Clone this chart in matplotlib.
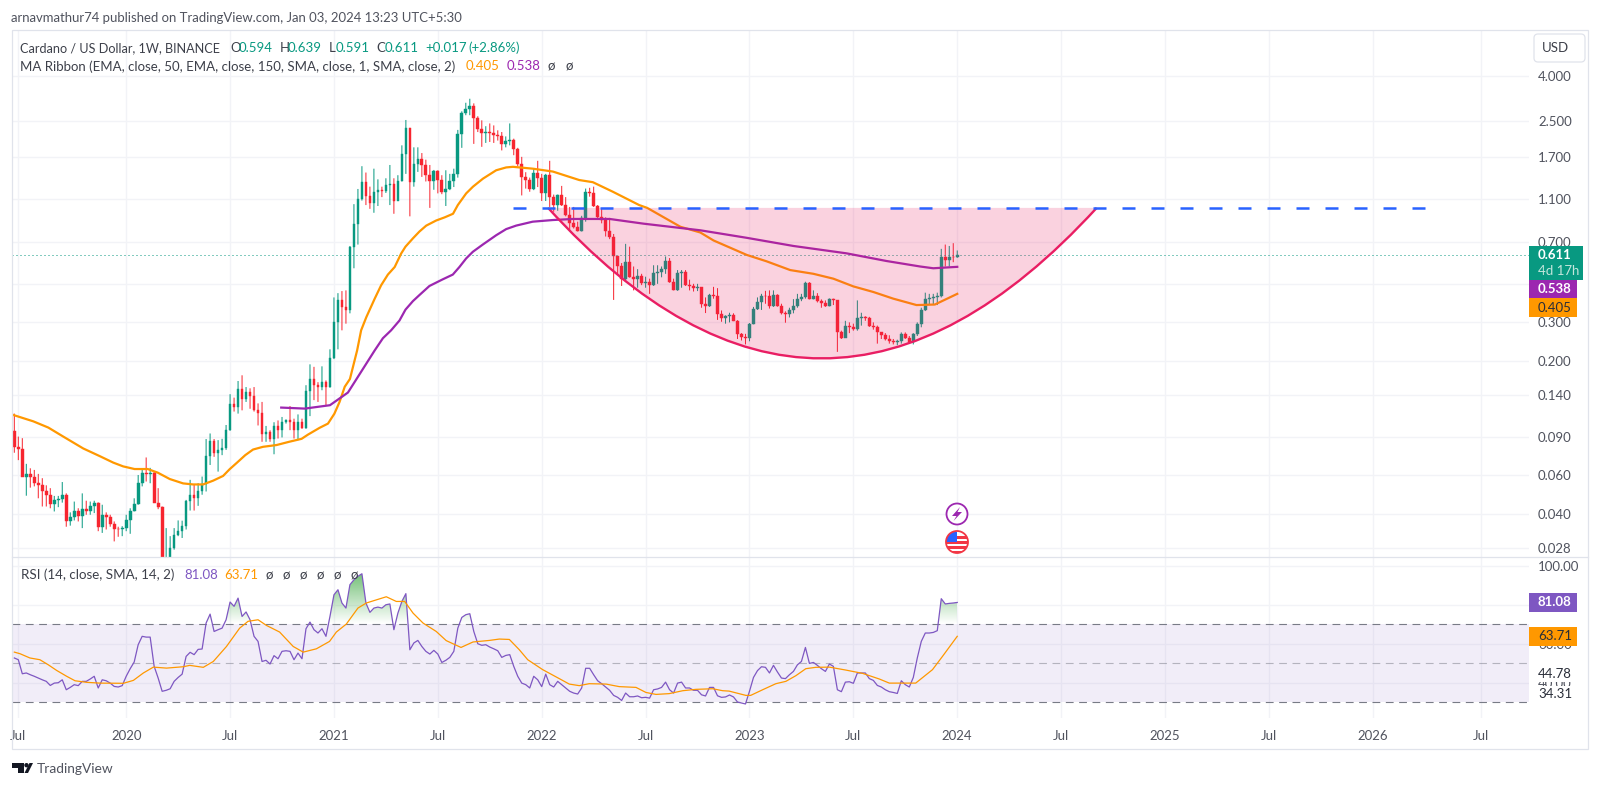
import numpy as np
import matplotlib
matplotlib.use('Agg')
import matplotlib.pyplot as plt
from matplotlib.patches import Rectangle, Circle, PathPatch, FancyBboxPatch, Polygon
from matplotlib.path import Path

plt.rcParams['font.family'] = ['Lato', 'DejaVu Sans']

# weekly candles, one value per week, oldest first
closes = [
    .0808, .0795, .0593, .0610, .0593, .0557, .0543, .0507, .0490, .0445,
    .0464, .0468, .0487, .0370, .0386, .0414, .0393, .0421, .0415, .0436,
    .0449, .0350, .0397, .0386, .0361, .0343, .0342, .0346, .0377, .0415,
    .0445, .0553, .0618, .0610, .0614, .0451, .0430, .0235, .0250, .0280,
    .0320, .0336, .0354, .0460, .0490, .0472, .0510, .0549, .0735, .0863,
    .0757, .0785, .0797, .0972, .127, .123, .149, .134, .144, .138,
    .119, .1158, .0925, .095, .0885, .1007, .0966, .1058, .107, .1055,
    .0966, .1058, .0993, .146, .165, .156, .152, .161, .152, .206,
    .301, .380, .353, .342, .665, .845, 1.10, 1.31, 1.13, 1.05,
    1.185, 1.205, 1.195, 1.27, 1.28, 1.08, 1.325, 1.76, 2.32, 1.31,
    1.58, 1.68, 1.57, 1.41, 1.33, 1.47, 1.34, 1.185, 1.225, 1.32,
    1.425, 2.17, 2.72, 2.84, 2.91, 2.58, 2.28, 2.20, 2.23, 2.19,
    2.16, 2.13, 1.96, 2.02, 2.05, 1.85, 1.58, 1.385, 1.34, 1.225,
    1.45, 1.375, 1.17, 1.41, 1.127, 1.03, 1.14, 1.03, .925, .85,
    .82, .785, .90, 1.185, 1.165, 1.015, .91, .878, .785, .735,
    .60, .54, .475, .565, .485, .472, .488, .452, .46, .445,
    .505, .51, .528, .575, .46, .42, .505, .51, .445, .44,
    .43, .436, .365, .358, .402, .398, .326, .313, .32, .323,
    .305, .265, .257, .255, .296, .345, .37, .396, .394, .358,
    .402, .358, .331, .326, .342, .356, .383, .391, .454, .385,
    .394, .374, .369, .356, .382, .378, .27, .255, .29, .286,
    .28, .313, .318, .313, .29, .286, .27, .264, .252, .246,
    .243, .246, .266, .255, .245, .265, .296, .341, .385, .388,
    .39, .395, .594, .58, .595, .594, .611,
]
highs = [
    .115, .0903, .0888, .0678, .0647, .0636, .0610, .0583, .0541, .0525,
    .0484, .0484, .0560, .0497, .0407, .0456, .0425, .0497, .0460, .0456,
    .0460, .0452, .0441, .0407, .0397, .0370, .0350, .0352, .0397, .0425,
    .0472, .0603, .0636, .0725, .0650, .0625, .0525, .0433, .0345, .0317,
    .0345, .0374, .0373, .0464, .0573, .0543, .0553, .0593, .0880, .0933,
    .0880, .0870, .0882, .102, .141, .136, .162, .172, .152, .150,
    .152, .128, .130, .101, .0965, .105, .107, .111, .108, .1245,
    .109, .114, .109, .155, .193, .188, .160, .189, .163, .226,
    .390, .408, .417, .42, .67, 1.04, 1.22, 1.55, 1.45, 1.25,
    1.51, 1.35, 1.25, 1.365, 1.57, 1.365, 1.41, 1.93, 2.52, 2.32,
    1.89, 1.89, 1.78, 1.66, 1.57, 1.49, 1.485, 1.41, 1.485, 1.43,
    1.51, 2.27, 2.76, 3.02, 3.15, 3.0, 2.62, 2.51, 2.36, 2.43,
    2.38, 2.26, 2.22, 2.12, 2.43, 2.07, 1.88, 1.71, 1.455, 1.375,
    1.51, 1.64, 1.43, 1.43, 1.64, 1.15, 1.15, 1.26, 1.12, 1.01,
    1.01, .865, .92, 1.225, 1.235, 1.25, 1.03, .99, .905, .90,
    .76, .60, .56, .685, .665, .54, .525, .50, .485, .475,
    .547, .547, .54, .60, .59, .475, .52, .52, .52, .47,
    .45, .45, .433, .39, .405, .436, .43, .34, .323, .332,
    .33, .307, .268, .266, .298, .353, .39, .405, .418, .42,
    .42, .403, .365, .337, .35, .383, .405, .405, .46, .458,
    .42, .408, .382, .378, .386, .385, .374, .275, .305, .30,
    .296, .378, .332, .32, .318, .30, .29, .27, .268, .262,
    .252, .25, .27, .27, .26, .268, .30, .35, .41, .405,
    .405, .41, .65, .68, .67, .69, .639,
]
lows = [
    .0762, .0705, .0593, .0485, .0528, .0535, .0472, .0433, .0433, .0425,
    .0411, .0430, .0451, .0350, .0354, .0374, .0370, .0345, .0397, .0397,
    .0404, .0334, .0328, .0340, .0350, .0300, .0315, .0317, .0334, .0325,
    .0411, .0441, .0535, .0563, .0553, .0449, .0421, .0220, .0225, .0230,
    .0275, .0317, .0311, .0340, .0415, .0415, .0436, .0490, .0507, .0670,
    .0730, .0625, .0743, .0785, .096, .1175, .115, .119, .130, .121,
    .1175, .1015, .0855, .0855, .0855, .075, .0885, .0895, .1035, .0966,
    .0885, .087, .098, .098, .112, .1325, .130, .147, .1255, .151,
    .204, .226, .276, .296, .330, .53, .68, 1.08, 1.03, .99,
    .95, 1.02, 1.12, 1.17, 1.03, .94, 1.08, 1.32, 1.43, .915,
    1.25, 1.46, 1.385, 1.32, 1.0, 1.21, 1.165, 1.155, 1.02, 1.205,
    1.245, 1.375, 1.88, 2.65, 2.65, 1.96, 2.22, 1.9, 1.98, 2.0,
    1.98, 2.03, 1.83, 1.89, 1.93, 1.74, 1.55, 1.14, 1.225, 1.185,
    1.205, 1.245, 1.075, 1.075, 1.01, .96, .97, 1.02, .915, .795,
    .805, .78, .78, .865, 1.125, 1.01, .895, .85, .74, .72,
    .38, .495, .44, .465, .48, .42, .432, .444, .432, .405,
    .44, .45, .482, .50, .455, .42, .418, .432, .44, .42,
    .415, .417, .35, .331, .353, .385, .308, .302, .296, .30,
    .304, .252, .248, .238, .246, .294, .342, .342, .365, .347,
    .353, .354, .326, .299, .316, .33, .35, .375, .385, .382,
    .382, .37, .35, .353, .355, .36, .22, .252, .257, .268,
    .275, .275, .29, .305, .286, .278, .24, .252, .248, .24,
    .238, .236, .24, .252, .242, .238, .26, .285, .338, .36,
    .36, .36, .39, .54, .54, .565, .591,
]
first_open = .096

# moving averages
ema50_week = [-0.7, 4.75, 8.5, 12.25, 17.25, 21.4, 24.75, 27.25, 30.1, 33.4, 35.9, 38.9, 42.25, 44.75, 47.25, 49.75,
              52.25, 53.9, 55.75, 57.8, 59.75, 62.25, 65.6, 68.9, 71.9, 73.5, 76.4, 78.5, 80.1, 81.4, 82.7, 84,
              85.8, 86.8, 88.1, 90.2, 91.8, 93.5, 95.2, 96.8, 97.9, 99.8, 101.4, 103.1, 105.6, 107.7, 109.8, 111,
              113.1, 114.8, 117.3, 120.6, 123.1, 124.8, 129.8, 134.8, 141.4, 144.8, 149.8, 156.4,
              158.4, 166.7, 171.7, 175, 183.3, 188.3, 194.2, 200, 205, 210, 215, 220, 225.8, 230.4, 236]
ema50_val = [.114, .106, .0993, .0903, .0797, .0735, .0687, .066, .0642, .0642, .0618, .0578, .0552, .0546, .0546, .0568,
             .0597, .0641, .0687, .0743, .0788, .0811, .0826, .0856, .0882, .0922, .099, .1035, .1148, .13, .1525, .1655,
             .2235, .276, .317, .385, .443, .496, .537, .618, .665, .727, .78, .83, .876, .905, .94, 1.03,
             1.165, 1.25, 1.36, 1.485, 1.53, 1.54, 1.51, 1.465, 1.34, 1.31, 1.185, 1.03,
             1.0, .82, .772, .71, .61, .57, .52, .50, .475, .438, .413, .385, .36, .362, .405]
ema150_week = [66.8, 72.7, 79, 83.5, 90.2, 92.25, 94.3, 96.4, 97.9, 99.75, 101.4, 103.9, 107.25, 109.75, 111.4, 113.1,
               114.75, 117.25, 120.6, 123.1, 125.6, 129.75, 134.75, 139.75, 143, 149, 157.5, 171.7, 183.3, 195,
               208.3, 218.3, 226.7, 230, 236]
ema150_val = [.1225, .1212, .1256, .1435, .2235, .254, .276, .306, .343, .375, .40, .44, .472, .496, .537, .588,
              .63, .68, .75, .80, .83, .865, .88, .89, .89, .89, .847, .79, .73, .67,
              .62, .572, .54, .53, .538]

# RSI per week
rsi = [
    52.6, 51.7, 44.5, 44.9, 44, 43.2, 42.3, 41.4, 40.6, 38.5, 39.7, 39.9, 41.4, 36.3, 37.5, 38.9, 38.4, 40.6, 40.6, 41.8,
    43.2, 37.2, 41.4, 40.9, 39.7, 38, 37.7, 38.4, 43.2, 47.1, 50.5, 59.4, 63.7, 63.3, 63.3, 48.3, 42.3, 35.5, 36, 36.8,
    40.6, 42.6, 44.3, 53.4, 55.5, 54.3, 57, 57.2, 70.5, 75.1, 66.2, 67.1, 67.9, 72.2, 81.3, 79.1, 83.3, 73.9, 76.2, 72.2,
    63.7, 61.1, 50.8, 51.4, 49.5, 53.8, 52.2, 56, 56.3, 56, 51.7, 55.1, 52.2, 67.6, 71, 67.1, 65.4, 67.6, 63.7, 73.9,
    85, 87.6, 80.8, 78.2, 90.2, 92.7, 94.5, 95.8, 80.8, 76, 78.2, 78.7, 78.2, 79.9, 80.3, 67.1, 75.6, 81.6, 85.6, 56.8,
    60.3, 61.6, 58.5, 56, 54.6, 56.5, 54.6, 50.3, 51.4, 52.9, 56, 67.9, 73.4, 74.8, 75.3, 66.2, 59.9, 59.1, 59.4, 58.2,
    57.3, 56.3, 52.9, 53.9, 54.3, 48.3, 43.2, 39.7, 38.9, 37.2, 43.2, 41.4, 37.9, 44.3, 38.9, 37.7, 40.6, 38.9, 37.2, 35.5,
    34.6, 34.1, 37.2, 47.3, 47.3, 44, 40.9, 39.4, 37.7, 36, 33.4, 32.4, 30.8, 34.6, 32.7, 32.7, 33.1, 32.2, 32.4, 32,
    36.3, 36.7, 37.5, 40.2, 36.3, 34.6, 39.7, 40.2, 37.2, 37.2, 36, 36, 33.7, 33.1, 37.5, 37.5, 33.2, 32.4, 32.6, 33.6,
    32.6, 30, 29.5, 29, 35.5, 42.6, 46.1, 48.1, 47.8, 44.9, 48.8, 45.4, 42.3, 42, 44, 45.7, 49.1, 50.8, 58, 49.8,
    50.3, 48.8, 47.1, 45.7, 49.5, 48.3, 36.3, 35.3, 40.2, 40.4, 39.6, 44.9, 44.9, 44.9, 42, 41.1, 38.5, 37.7, 36.3, 35.3,
    34.9, 34.4, 40.9, 38.9, 37.7, 42.6, 52.6, 61.1, 65.4, 65.4, 65.7, 66.6, 83, 80.3, 80.6, 80.8, 81.08,
]
rsi_ma_week = [0, 1.4, 3.9, 6.4, 8.5, 10.6, 13.1, 15.2, 18.1, 21.4, 27.3, 29.8, 32.3, 34.8, 38.1, 42.3, 43.9, 47.3, 49.8,
               53.1, 56.4, 58.5, 61, 63.1, 66.4, 69.8, 72.3, 75.6, 78.9, 80.6, 83.1, 86, 88.1, 93.1, 95.6, 97.7, 99.8,
               102.3, 105.6, 108.1, 111.8, 114.8, 118.9, 121.4, 123.9, 126.4, 128.5, 132.25, 136.4, 138.9, 141.4, 143.9,
               148.1, 151.4, 155.6, 158.1, 160.6, 163.9, 167.3, 170.6, 174.8, 177.3, 178.9, 183.1, 184.3, 187.3, 190.6,
               193.1, 195.6, 198.1, 200.6, 204, 208.1, 212.3, 216.5, 219, 222.3, 225.6, 229.8, 232.3, 236]
rsi_ma_val = [55.6, 54.8, 52.6, 51.7, 49.1, 46.2, 43.2, 40.9, 40.1, 39.7, 39.6, 41.1, 44.9, 47.9, 47.4, 48.1, 48.8, 47.8, 50.8,
              58.5, 67.9, 71.4, 72.2, 69.3, 65.9, 58.5, 55.6, 57.3, 61.1, 65.9, 70, 78.2, 80.8, 84, 81.6, 81.6, 75.6,
              70.5, 66.2, 61.5, 58, 60.8, 61.6, 62.3, 62.1, 56.8, 51.7, 46.6, 42, 39.2, 38.4, 39.4,
              39.2, 37.9, 37.5, 34.9, 33.9, 34.3, 35.8, 36.5, 36.8, 35.8, 35.6, 33.4, 33.4, 36.3, 39.4,
              40.6, 43.5, 47.1, 47.8, 47.9, 46.4, 44.7, 41.8, 39.7, 39.7, 39.7, 46.6, 53.4, 63.71]

price_ticks = [4, 2.5, 1.7, 1.1, .7, .45, .3, .2, .14, .09, .06, .04, .028]
price_labels = ['4.000', '2.500', '1.700', '1.100', '0.700', '', '0.300', '0.200', '0.140', '0.090', '0.060', '0.040', '0.028']
week_ticks = [1, 28, 54, 80, 106, 132, 158, 184, 210, 236, 262, 288, 314, 340, 367]
week_labels = ['Jul', '2020', 'Jul', '2021', 'Jul', '2022', 'Jul', '2023', 'Jul', '2024', 'Jul', '2025', 'Jul', '2026', 'Jul']
rsi_ticks = [100, 80, 60, 40]
rsi_labels = ['100.00', '', '60.00', '40.00']

# drawings on the chart: resistance level and the rounded bottom arc
level_price = 1.0
level_weeks = [124.8, 355.5]
arc_weeks = [133.6, 201.9, 270.9]
arc_prices = [1.0, .0422, 1.0]

last_close = .611
UP = '#089981'
DOWN = '#f7252f'
ORANGE = '#ff9800'
PURPLE = '#9c27b0'
RSI_PURPLE = '#7e57c2'
GRID = '#f2f3f7'
BORDER = '#e0e3eb'
TEXT = '#50535e'
W, H = 1600, 788


def box(left, top, right, bottom):
    return [left / W, 1 - bottom / H, (right - left) / W, (bottom - top) / H]


fig = plt.figure(figsize=(16, 7.88), dpi=100, facecolor='white')
ax = fig.add_axes(box(12, 30, 1529, 557))
ax_rsi = fig.add_axes(box(12, 557, 1529, 718))

weeks = np.arange(len(closes))
closes = np.array(closes)
opens = np.r_[first_open, closes[:-1]]
highs = np.array(highs)
lows = np.array(lows)
is_up = closes >= opens
colors = np.where(is_up, UP, DOWN)

# candles
ax.set_yscale('log')
lines = ax.vlines(weeks, lows, highs, colors=colors, linewidth=0.72, zorder=2)
lines.set_snap(False)
ax.bar(weeks, np.abs(closes - opens), bottom=np.minimum(opens, closes), width=0.68,
       color=colors, edgecolor=colors, linewidth=0.3, zorder=2.1)

ax.plot(ema50_week, ema50_val, color=ORANGE, lw=1.6, zorder=3, solid_joinstyle='round')
ax.plot(ema150_week, ema150_val, color=PURPLE, lw=1.6, zorder=3, solid_joinstyle='round')
ax.axhline(last_close, color=UP, lw=0.72, ls=(0, (1, 3)), zorder=2.5)

# arc and level
arc_xy = np.column_stack([arc_weeks, arc_prices])
fill_path = Path(np.vstack([arc_xy, arc_xy[0]]), [Path.MOVETO, Path.CURVE3, Path.CURVE3, Path.CLOSEPOLY])
ax.add_patch(PathPatch(fill_path, facecolor=(0.914, 0.118, 0.388, 0.2), edgecolor='none', zorder=4))
arc_path = Path(arc_xy, [Path.MOVETO, Path.CURVE3, Path.CURVE3])
ax.add_patch(PathPatch(arc_path, facecolor='none', edgecolor='#e91e63', lw=1.7, zorder=4.1))
ax.plot(level_weeks, [level_price, level_price], color='#2962ff', lw=1.8, ls=(0, (5.2, 6.4)), zorder=4.2,
        dash_capstyle='butt')

ax.set_xlim(-0.58, 379.1)
ax.set_ylim(.02546, 6.49)
ax.set_yticks(price_ticks)
ax.set_yticklabels(price_labels)
ax.yaxis.set_minor_locator(plt.NullLocator())
ax.yaxis.set_minor_formatter(plt.NullFormatter())
ax.yaxis.tick_right()
ax.set_xticks(week_ticks)
ax.tick_params(axis='x', length=0, labelbottom=False)
ax.tick_params(axis='y', length=0, pad=6.5, labelsize=9.5, labelcolor=TEXT)
ax.grid(True, color=GRID, lw=1.0, zorder=0)
ax.set_axisbelow(True)
for s in ax.spines.values():
    s.set_visible(False)

# RSI pane
ax_rsi.axhspan(30, 70, color=RSI_PURPLE, alpha=0.1, lw=0, zorder=1)
ax_rsi.axhline(70, color='#787b86', lw=0.8, ls=(0, (7, 5)), zorder=1.5)
ax_rsi.axhline(50, color='#787b86', lw=0.8, ls=(0, (7, 5)), alpha=0.5, zorder=1.5)
ax_rsi.axhline(30, color='#787b86', lw=0.8, ls=(0, (7, 5)), zorder=1.5)

rsi_x = np.arange(len(closes) - len(rsi), len(closes))
rsi = np.array(rsi)
over = ax_rsi.fill_between(rsi_x, 70, rsi, where=rsi >= 70, interpolate=True, color='none')
clip = Path.make_compound_path(*over.get_paths())
gradient = np.zeros((64, 2, 4))
gradient[..., :3] = (0.298, 0.686, 0.314)
gradient[..., 3] = np.linspace(0.9, 0.0, 64)[:, None]
im = ax_rsi.imshow(gradient, extent=[rsi_x[0], rsi_x[-1], 70, 100], aspect='auto', origin='upper', zorder=1.8)
im.set_clip_path(clip, transform=ax_rsi.transData)

ax_rsi.plot(rsi_x, rsi, color=RSI_PURPLE, lw=0.9, zorder=3)
ax_rsi.plot(rsi_ma_week, rsi_ma_val, color=ORANGE, lw=0.9, zorder=3.1)

ax_rsi.set_xlim(-0.58, 379.1)
ax_rsi.set_ylim(21.8, 104.4)
ax_rsi.yaxis.tick_right()
ax_rsi.set_yticks(rsi_ticks)
ax_rsi.set_yticklabels(rsi_labels)
ax_rsi.set_xticks(week_ticks)
ax_rsi.set_xticklabels(week_labels)
ax_rsi.tick_params(axis='x', length=0, pad=9, labelsize=9.5, labelcolor=TEXT)
ax_rsi.tick_params(axis='y', length=0, pad=6.5, labelsize=9.5, labelcolor=TEXT)
ax_rsi.grid(True, color=GRID, lw=1.0, zorder=0)
ax_rsi.set_axisbelow(True)
for s in ax_rsi.spines.values():
    s.set_visible(False)

# everything around the panes is drawn on a pixel sized overlay
ui = fig.add_axes([0, 0, 1, 1], facecolor='none')
ui.set_xlim(0, W)
ui.set_ylim(H, 0)
ui.axis('off')
renderer = fig.canvas.get_renderer()


def label(x, y, s, color=TEXT, size=9.5, **kw):
    kw.setdefault('va', 'center')
    return ui.text(x, y, s, color=color, fontsize=size, **kw)


def fitted(x0, x1, y, s, color):
    # scale the font so the string spans the same pixels as in the picture
    t = label(x0, y, s, color=color)
    t.set_fontsize(9.5 * (x1 - x0) / t.get_window_extent(renderer).width)
    return t


# frame
ui.add_patch(Rectangle((11.5, 29.5), 1576.5, 719.5, fc='none', ec=BORDER, lw=0.9))
ui.plot([12, 1588], [557, 557], color=BORDER, lw=0.9)

fitted(11.3, 465, 17.7, 'arnavmathur74 published on TradingView.com, Jan 03, 2024 13:23 UTC+5:30', '#50535e')

# legend rows
fitted(20.3, 220.7, 47.7, 'Cardano / US Dollar, 1W, BINANCE', '#3d404a')
for x, s, c in [(230, 'O', '#3d404a'), (239, '0.594', UP), (279.3, 'H', '#3d404a'), (288, '0.639', UP),
                (329, 'L', '#3d404a'), (336, '0.591', UP), (376, 'C', '#3d404a'), (385, '0.611', UP),
                (425, '+0.017', UP), (468, '(+2.86%)', UP)]:
    label(x, 47.7, s, color=c)
fitted(20.3, 457, 66.3, 'MA Ribbon (EMA, close, 50, EMA, close, 150, SMA, close, 1, SMA, close, 2)', '#3d404a')
label(466, 66.3, '0.405', color=ORANGE)
label(507, 66.3, '0.538', color=PURPLE)
label(548, 66.3, 'ø', color='#3d404a')
label(566, 66.3, 'ø', color='#3d404a')

fitted(20.7, 175, 575, 'RSI (14, close, SMA, 14, 2)', '#3d404a')
label(184, 575, '81.08', color=RSI_PURPLE)
label(224, 575, '63.71', color=ORANGE)
for x in [266, 283, 300, 317, 334, 351]:
    label(x, 575, 'ø', color='#3d404a')

# USD button
ui.add_patch(FancyBboxPatch((1534, 34), 51, 28, boxstyle='round,pad=0,rounding_size=4', fc='white', ec=BORDER, lw=0.9))
label(1555, 48, 'USD', color='#3d404a', ha='center')

# price tags
ui.add_patch(Rectangle((1529, 245.5), 54, 34, fc='#089981', ec='none'))
label(1538, 254.5, '0.611', color='white', weight='bold')
label(1538, 271, '4d 17h', color='#c4e6dc')
ui.add_patch(Rectangle((1529, 279.5), 48, 18.5, fc=PURPLE, ec='none'))
label(1538, 289, '0.538', color='white', weight='bold')
ui.add_patch(Rectangle((1529, 298), 48, 18.5, fc=ORANGE, ec='none'))
label(1538, 307.5, '0.405', color='#2a2e39')
ui.add_patch(Rectangle((1529, 593), 48, 19, fc=RSI_PURPLE, ec='none'))
label(1538, 602.5, '81.08', color='white', weight='bold')
ui.add_patch(Rectangle((1529, 627), 48, 19, fc=ORANGE, ec='none'))
label(1538, 636.5, '63.71', color='#2a2e39')
ui.text(1538, 674, '44.78', color='#2a2e39', fontsize=9.5, va='center',
        bbox=dict(fc='white', ec='none', pad=1.5))
ui.text(1538, 694, '34.31', color='#2a2e39', fontsize=9.5, va='center',
        bbox=dict(fc='white', ec='none', pad=1.5))

# event icons on the last bar
ui.add_patch(Circle((957, 514), 10.5, fc='white', ec=PURPLE, lw=1.3))
ui.add_patch(Polygon([(960, 507), (952, 516), (956.5, 516), (953.5, 521), (962, 512), (957.5, 512)], fc=PURPLE, ec='none'))
flag = Circle((957, 542), 11, fc='white', ec='none')
ui.add_patch(flag)
for y0 in [536, 541, 546, 551]:
    r = ui.add_patch(Rectangle((944, y0), 26, 2.6, fc='#f23645', ec='none'))
    r.set_clip_path(flag)
r = ui.add_patch(Rectangle((946, 532), 11, 10, fc='#2962ff', ec='none'))
r.set_clip_path(flag)
ui.add_patch(Circle((957, 542), 11, fc='none', ec='#f23645', lw=1.3))

# footer logo
ui.add_patch(Polygon([(12, 763), (24, 763), (24, 773), (18, 773), (18, 767.5), (12, 767.5)], fc='#131722', ec='none'))
ui.add_patch(Circle((26.5, 765.2), 2.2, fc='#131722', ec='none'))
ui.add_patch(Polygon([(28, 773), (33, 763), (29.5, 763), (24.5, 773)], fc='#131722', ec='none'))
fitted(37, 114, 769, 'TradingView', '#50535e')

fig.savefig('out.png', dpi=100, facecolor='white')
